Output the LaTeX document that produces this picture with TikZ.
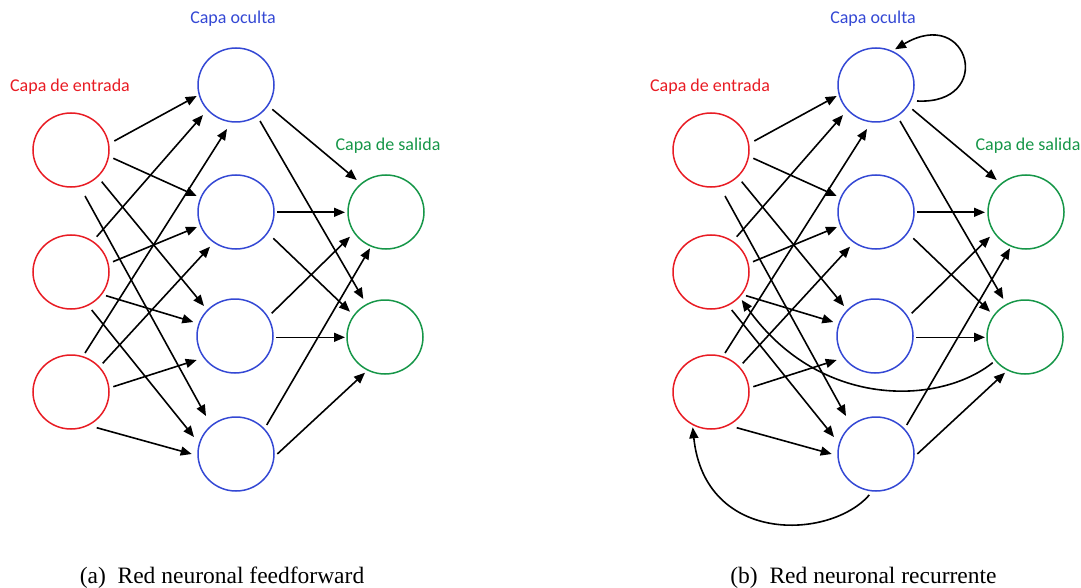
\documentclass[tikz,border=0pt]{standalone}
\usepackage{fontspec}
\setmainfont{Liberation Serif}
\newfontfamily\lblfont{Carlito}
\usetikzlibrary{arrows.meta,shapes.geometric}
\definecolor{nnred}{RGB}{232,28,36}
\definecolor{nnblue}{RGB}{52,72,212}
\definecolor{nngreen}{RGB}{22,150,72}
\tikzset{
  neuron/.style={ellipse, draw, line width=1.5pt, minimum width=76pt, minimum height=74pt, inner sep=0pt},
  inp/.style={neuron, draw=nnred},
  hid/.style={neuron, draw=nnblue},
  outp/.style={neuron, draw=nngreen},
  arr/.style={line width=1.6pt, -{Triangle[length=11pt,width=9pt]}},
  lbl/.style={font=\lblfont\fontsize{18}{20}\selectfont, anchor=base, inner sep=0pt},
  capt/.style={font=\fontsize{23.5}{26}\selectfont, anchor=base, inner sep=0pt}
}
\newcommand\lnk[4]{\draw[arr] ([shift={#2}]#1.center) -- ([shift={#4}]#3.center);}
\newcommand\mynet[2]{%
\begin{scope}[shift={(#2,0)}]
  \node[inp] (#1i1) at (71,150) {};
  \node[inp] (#1i2) at (71,272) {};
  \node[inp] (#1i3) at (71,392) {};
  \node[hid] (#1h1) at (236,85) {};
  \node[hid] (#1h2) at (236,212) {};
  \node[hid] (#1h3) at (235,336) {};
  \node[hid] (#1h4) at (236,454) {};
  \node[outp] (#1o1) at (386,212) {};
  \node[outp] (#1o2) at (385,337) {};
  \node[lbl, text=nnblue] (#1lh) at (233,24) {Capa oculta};
  \node[lbl, text=nnred] (#1li) at (70,92) {Capa de entrada};
  \node[lbl, text=nngreen] (#1lo) at (388,151) {Capa de salida};
  % input -> hidden
  \lnk{#1i1}{(43.3,-9)}{#1h1}{(-39.3,11)}
  \lnk{#1i1}{(42.3,8.3)}{#1h2}{(-39.3,-16)}
  \lnk{#1i1}{(30.7,31.7)}{#1h3}{(-31,-30)}
  \lnk{#1i1}{(14,46)}{#1h4}{(-30,-38)}
  \lnk{#1i2}{(25.7,-35.3)}{#1h1}{(-33,30)}
  \lnk{#1i2}{(42,-10.3)}{#1h2}{(-39,15)}
  \lnk{#1i2}{(35,23.7)}{#1h3}{(-41.7,-14)}
  \lnk{#1i2}{(20.7,38)}{#1h4}{(-42,-17)}
  \lnk{#1i3}{(14,-39)}{#1h1}{(-9,44)}
  \lnk{#1i3}{(31.7,-28.7)}{#1h2}{(-26,34.7)}
  \lnk{#1i3}{(42.3,-5.3)}{#1h3}{(-38.3,24)}
  \lnk{#1i3}{(25.7,35.7)}{#1h4}{(-44.3,0)}
  % hidden -> output
  \lnk{#1h1}{(36.3,24.3)}{#1o1}{(-29.3,-32)}
  \lnk{#1h1}{(24,36)}{#1o2}{(-21.7,-38)}
  \lnk{#1h2}{(41.3,0.3)}{#1o1}{(-41,0.3)}
  \lnk{#1h2}{(37.3,26.3)}{#1o2}{(-35,-25.3)}
  \lnk{#1h3}{(36.7,-22.7)}{#1o1}{(-36,24.7)}
  \lnk{#1h3}{(41,1.3)}{#1o2}{(-40,0.3)}
  \lnk{#1h4}{(30.7,-29)}{#1o1}{(-16,36.3)}
  \lnk{#1h4}{(41.3,0)}{#1o2}{(-20,35.7)}
\end{scope}}
\begin{document}
\begin{tikzpicture}[x=1pt,y=-1pt]
  \useasboundingbox (0,0) rectangle (1081,588);
  \mynet{a}{0}
  \mynet{b}{640}
  % recurrent connections
  \draw[arr] ([shift={(41,16)}]bh1.center) .. controls (995,105) and (970,5) .. ([shift={(19,-35.7)}]bh1.center);
  \draw[arr] ([shift={(-32.3,25.7)}]bo2.center) .. controls (940,405) and (820,410) .. ([shift={(30.7,28)}]bi2.center);
  \draw[arr] ([shift={(-6.7,41)}]bh4.center) .. controls (830,540) and (705,545) .. ([shift={(-18.3,35.3)}]bi3.center);
  % captions
  \node[capt] (capa) at (222,583) {(a)\hspace{0.5em}Red neuronal feedforward};
  \node[capt] (capb) at (863.5,583) {(b)\hspace{0.5em}Red neuronal recurrente};
\end{tikzpicture}
\end{document}
